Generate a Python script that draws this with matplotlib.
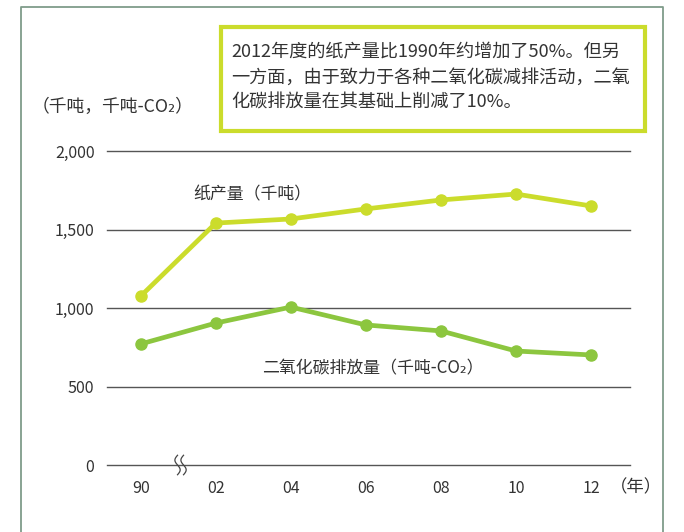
import matplotlib
matplotlib.use("Agg")
import matplotlib.pyplot as plt
import numpy as np
from matplotlib.patches import Rectangle

plt.rcParams['font.family'] = ['Noto Sans CJK SC', 'DejaVu Sans']

years = ["90", "02", "04", "06", "08", "10", "12"]
paper = [1076, 1541, 1567, 1631, 1688, 1726, 1650]
co2 = [771, 904, 1006, 892, 854, 726, 701]
yticks = [0, 500, 1000, 1500, 2000]
yticklabels = ["0", "500", "1,000", "1,500", "2,000"]

W, H = 684, 532
fig = plt.figure(figsize=(W / 100, H / 100), dpi=100)

def px(x0, y0, x1, y1):
    return [x0 / W, 1 - y1 / H, (x1 - x0) / W, (y1 - y0) / H]

ax = fig.add_axes(px(107, 151, 630, 465))
ax.set_xlim(-0.45, 6.52)
ax.set_ylim(0, 2000)
for s in ax.spines.values():
    s.set_visible(False)
ax.tick_params(length=0)
ax.set_yticks(yticks)
ax.set_yticklabels(yticklabels, fontsize=11.5, color='#333333')
ax.tick_params(axis='y', pad=9)
ax.set_xticks(range(len(years)))
ax.set_xticklabels(years, fontsize=11.5, color='#333333')
ax.tick_params(axis='x', pad=11)
for v in yticks:
    ax.axhline(v, color='#555555', lw=1.0, zorder=1, clip_on=False)

x = np.arange(len(years))
ax.plot(x, paper, color='#cbdc2c', lw=3.4, marker='o', ms=8, zorder=3,
        solid_capstyle='round')
ax.plot(x, co2, color='#8cc63f', lw=3.4, marker='o', ms=8, zorder=3,
        solid_capstyle='round')

# break mark
t = np.linspace(-1, 1, 60)
for dx in (0.49, 0.57):
    xs = dx - 0.035 * np.sin(t * np.pi)
    ys = 62 * t
    ax.plot(xs, ys, color='#444444', lw=0.9, zorder=4, clip_on=False)

ax.text(1.49, 1726, "纸产量（千吨）", fontsize=12.2, color='#333333', ha='center', va='center')
ax.text(3.09, 618, "二氧化碳排放量（千吨-CO₂）", fontsize=12.2, color='#333333',
        ha='center', va='center')

ov = fig.add_axes([0, 0, 1, 1])
ov.set_xlim(0, W)
ov.set_ylim(H, 0)
ov.axis('off')
ov.patch.set_alpha(0)
ov.plot([21, 21, 663, 663], [H + 5, 7, 7, H + 5], color='#7f9c8a', lw=1.3)
ov.add_patch(Rectangle((221, 27), 424, 104, fill=False, ec='#cbdc2c', lw=3))
lines = ["2012年度的纸产量比1990年约增加了50%。但另",
         "一方面，由于致力于各种二氧化碳减排活动，二氧",
         "化碳排放量在其基础上削减了10%。"]
for i, l in enumerate(lines):
    ov.text(231, 52 + i * 25.5, l, fontsize=13.1, color='#333333', va='center', ha='left')
ov.text(32, 107, "（千吨，千吨-CO₂）", fontsize=12.8, color='#333333', va='center', ha='left')
ov.text(610, 487, "（年）", fontsize=12.5, color='#333333', va='center', ha='left')

fig.savefig("out.png", dpi=100)
